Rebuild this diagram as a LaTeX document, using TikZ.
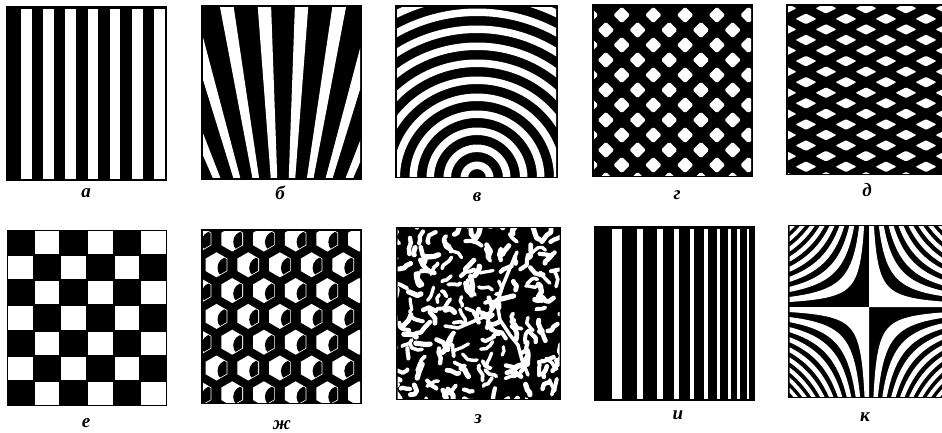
\documentclass[tikz,border=0pt]{standalone}
\usepackage{fontspec}
\setmainfont{Liberation Serif}
\newcommand\Kx{869}
\newcommand\Ky{307}
\newcommand\KR{125}
\newcommand\KA{400}
% hyperbolic band: #1 su, #2 sv, #3 w1, #4 w2
\newcommand\hband[4]{%
  \pgfmathsetmacro\sB{sqrt(#4)}%
  \pgfmathsetmacro\TB{ln(\KR/\sB)}%
  \ifdim #3pt=0pt
    \fill[white] (\Kx,{\Ky+(#2)*\KR}) -- plot[domain=-\TB:\TB,samples=60] ({\Kx+(#1)*\sB*exp(\x)},{\Ky+(#2)*\sB*exp(-\x)}) -- ({\Kx+(#1)*\KR},\Ky) -- (\Kx,\Ky) -- cycle;
  \else
    \pgfmathsetmacro\sA{sqrt(#3)}%
    \pgfmathsetmacro\TA{ln(\KR/\sA)}%
    \fill[white] plot[domain=-\TB:\TB,samples=60] ({\Kx+(#1)*\sB*exp(\x)},{\Ky+(#2)*\sB*exp(-\x)}) -- plot[domain=\TA:-\TA,samples=60] ({\Kx+(#1)*\sA*exp(\x)},{\Ky+(#2)*\sA*exp(-\x)}) -- cycle;
  \fi}
\begin{document}
\begin{tikzpicture}[x=1pt,y=-1pt,
  lbl/.style={font=\bfseries\itshape\fontsize{19}{19}\selectfont, inner sep=0pt},
  wormline/.style={white,line cap=round,line join=round}]
\useasboundingbox (0,0) rectangle (942,432);
\fill[white] (0,0) rectangle (942,432);

% ---------- a: vertical stripes
\fill[black] (6,6) rectangle (167,181);
\foreach \k in {0,...,6} \fill[white] ({21+22.2*\k},8.5) rectangle ({31.5+22.2*\k},178.5);
\node[lbl] (la) at (86,193) {а};

% ---------- b: fan
\fill[black] (201,5) rectangle (362,180);
\begin{scope}
\clip (203,7.5) rectangle (360,177.5);
\foreach \a in {-22.4,-16,-9.6,-3.2,3.2,9.6,16,22.4}
  \fill[white] (283,339) -- ({283+450*sin(\a-1.15)},{339-450*cos(\a-1.15)}) -- ({283+450*sin(\a+1.15)},{339-450*cos(\a+1.15)}) -- cycle;
\end{scope}
\node[lbl] (lb) at (280,193) {б};

% ---------- v: concentric half rings
\fill[black] (395,5) rectangle (558,178);
\begin{scope}
\clip (397,7) rectangle (556,176);
\foreach \k in {0,...,11}{
  \pgfmathsetmacro\ra{9+17*\k}
  \pgfmathsetmacro\rb{16.5+17*\k}
  \fill[white,even odd rule] (477,178) circle[radius=\ra pt] (477,178) circle[radius=\rb pt];
}
\end{scope}
\node[lbl] (lv) at (477,197) {в};

% ---------- g: diamond lattice
\fill[black] (592,4) rectangle (753,177);
\begin{scope}
\clip (594,6) rectangle (751,175);
\foreach \r in {0,...,11} \foreach \m in {-1,...,6}{
  \pgfmathsetmacro\cx{590+15.85*mod(\r,2)+31.7*\m}
  \pgfmathsetmacro\cy{15+15*\r}
  \fill[white,rounded corners=1.5pt] ({\cx-8.3},\cy) -- (\cx,{\cy-8.3}) -- ({\cx+8.3},\cy) -- (\cx,{\cy+8.3}) -- cycle;
}
\end{scope}
\node[lbl] (lg) at (677,195) {г};

% ---------- d: flat diamond lattice
\fill[black] (786,4) rectangle (945,175);
\begin{scope}
\clip (788,6) rectangle (942,173);
\foreach \r in {0,...,16} \foreach \m in {-1,...,5}{
  \pgfmathsetmacro\cx{786+20*mod(\r,2)+40*\m}
  \pgfmathsetmacro\cy{8.3+10.56*\r}
  \fill[white,rounded corners=1pt] ({\cx-10.5},\cy) -- (\cx,{\cy-5.3}) -- ({\cx+10.5},\cy) -- (\cx,{\cy+5.3}) -- cycle;
}
\end{scope}
\node[lbl] (ld) at (867,190) {д};

% ---------- e: checkerboard
\fill[black] (7,230) rectangle (167,406);
\foreach \i in {0,...,5} \foreach \j in {0,...,6}{
  \pgfmathtruncatemacro\p{mod(\i+\j,2)}
  \ifnum\p=1
    \fill[white] ({7+26.67*\i+1},{230+25.14*\j+1}) rectangle ({7+26.67*(\i+1)-1},{230+25.14*(\j+1)-1});
  \fi
}
\node[lbl] (le) at (86,423) {е};

% ---------- zh: hexagonal crescents
\fill[black] (201,229) rectangle (362,404);
\begin{scope}
\clip (203,231) rectangle (360,402);
\foreach \r in {0,...,6} \foreach \m in {-1,...,5}{
  \pgfmathsetmacro\cx{200.5+16*mod(\r,2)+31.7*\m}
  \pgfmathsetmacro\cy{239+25.8*\r}
  \fill[white] (\cx,\cy) +(30:12.5) -- +(90:12.5) -- +(150:12.5) -- +(210:12.5) -- +(270:12.5) -- +(330:12.5) -- cycle;
  \begin{scope}
    \clip (\cx,\cy) +(30:11.6) -- +(90:11.6) -- +(150:11.6) -- +(210:11.6) -- +(270:11.6) -- +(330:11.6) -- cycle;
    \fill[black] ({\cx+12},{\cy+3}) circle[radius=11pt];
  \end{scope}
}
\end{scope}
\node[lbl] (lzh) at (282,425) {ж};

% ---------- z: random labyrinth
\fill[black] (396,227) rectangle (561,400);
\begin{scope}
\clip (397.5,228.5) rectangle (559.5,398.5);
\pgfmathsetseed{4242}
\foreach \gx in {0,...,12} \foreach \gy in {0,...,12}{
  \pgfmathsetmacro\xa{396+13*\gx+11*rnd-2}
  \pgfmathsetmacro\ya{227+13.6*\gy+11*rnd-2}
  \pgfmathsetmacro\aa{360*rnd}
  \pgfmathsetmacro\ab{\aa+110*rnd-55}
  \pgfmathsetmacro\ac{\ab+110*rnd-55}
  \pgfmathsetmacro\la{3+5*rnd}
  \pgfmathsetmacro\lb{2.5+5*rnd}
  \pgfmathsetmacro\lc{1+4*rnd}
  \pgfmathsetmacro\lw{3.2+2.2*rnd}
  \draw[wormline,line width=\lw pt] (\xa,\ya) -- ++(\aa:\la) -- ++(\ab:\lb) -- ++(\ac:\lc);
}
\draw[wormline,line width=3.5pt] (517,252) -- (510,268) -- (503,285) -- (497,303) -- (488,315) -- (472,322) -- (458,328) -- (445,326);
\draw[wormline,line width=3.5pt] (497,303) -- (500,320) -- (510,335) -- (518,345) -- (522,360) -- (528,375);
\end{scope}
\node[lbl] (lz) at (478,419) {з};

% ---------- i: chirped stripes
\fill[black] (594,226) rectangle (755,401);
\foreach \a/\b in {611.7/621.7, 636.7/642.7, 656.7/662.7, 674.3/679.3, 690/694, 704/708, 716.7/720, 728.3/731, 736.7/740, 747/749}
  \fill[white] (\a,229) rectangle (\b,399);
\node[lbl] (li) at (678,415) {и};

% ---------- k: hyperbolic fringes
\fill[black] (788,225) rectangle (945,398);
\begin{scope}
\clip (789.5,226.5) rectangle (942,396.5);
\foreach \k in {0,...,9}{
  \pgfmathsetmacro\wa{(2*\k+1)*\KA}
  \pgfmathsetmacro\wb{(2*\k+2)*\KA}
  \pgfmathsetmacro\wc{2*\k*\KA}
  \pgfmathsetmacro\wd{(2*\k+1)*\KA}
  \hband{-1}{-1}{\wa}{\wb}
  \hband{1}{1}{\wa}{\wb}
  \hband{1}{-1}{\wc}{\wd}
  \hband{-1}{1}{\wc}{\wd}
}
\end{scope}
\node[lbl] (lk) at (865,417) {к};
\end{tikzpicture}
\end{document}
